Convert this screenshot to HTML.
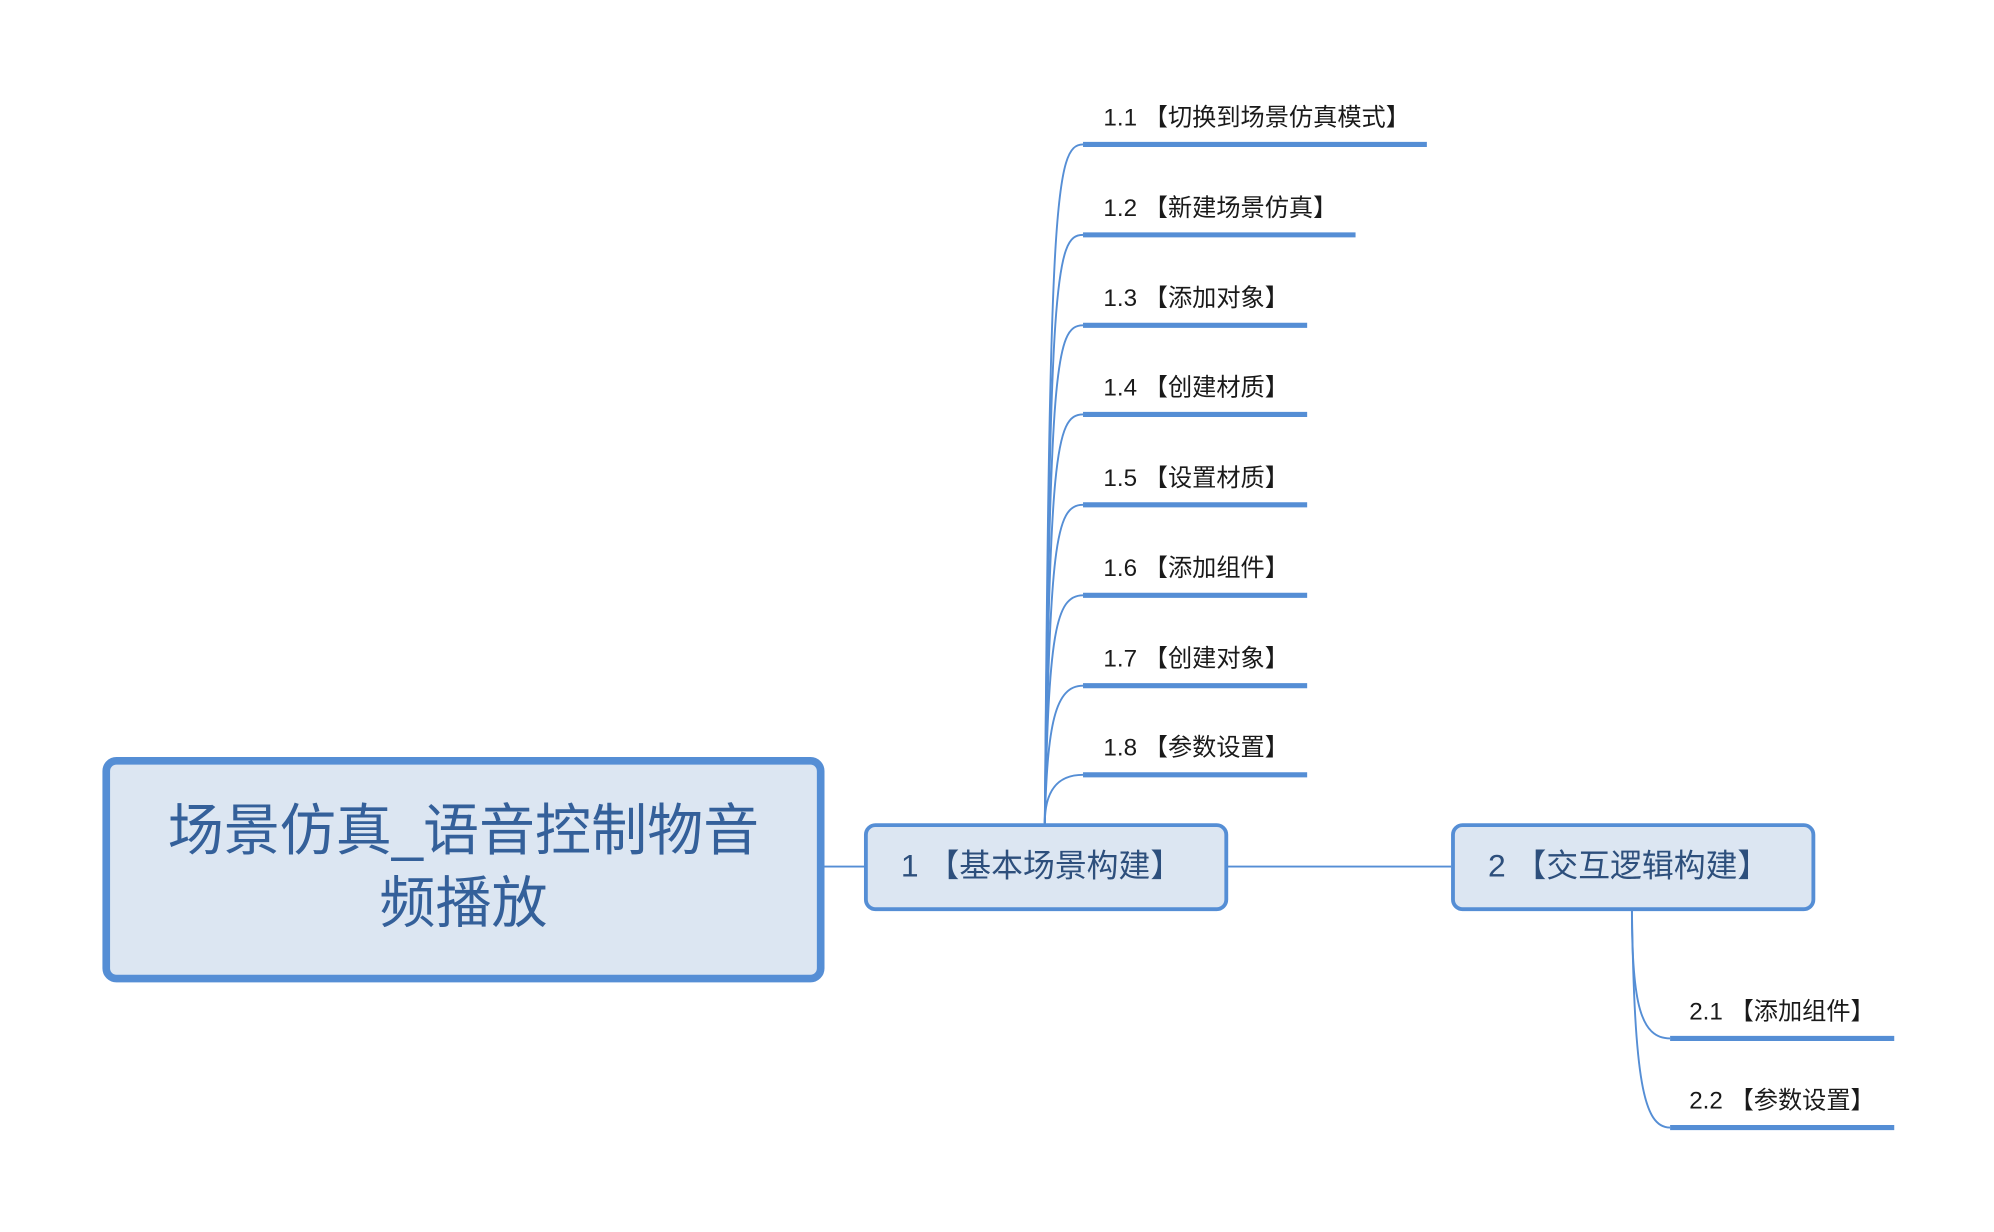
<!DOCTYPE html>
<html><head><meta charset="utf-8"><style>
html,body{margin:0;padding:0;background:#fff;width:1994px;height:1232px;overflow:hidden}
#s{position:absolute;left:-2px;top:-2px;width:1566px;height:968px;transform:scale(1.2735);transform-origin:0 0}
.t{position:absolute;white-space:nowrap;font-family:"Liberation Sans","Noto Sans CJK SC",sans-serif}
.leaf{font-size:19px;color:#1a1a1a;line-height:1}
.box{position:absolute;box-sizing:border-box;background:#dce6f2;border:3px solid #558ed5;border-radius:9px}
</style></head><body><div id="s">
<svg width="1566" height="968" style="position:absolute;left:0;top:0">
<g fill="none" stroke="#558ed5" stroke-width="1.5">
<line x1="648" y1="682" x2="682" y2="682"/>
<line x1="965" y1="682" x2="1141" y2="682"/>
<path d="M822 648 C826 160,830 115,852 115"/>
<path d="M822 648 C826 220,830 186,852 186"/>
<path d="M822 648 C826 290,830 257,852 257"/>
<path d="M822 648 C826 360,830 327,852 327"/>
<path d="M822 648 C826 430,830 398,852 398"/>
<path d="M822 648 C825 500,830 469,852 469"/>
<path d="M822 648 C824 570,830 540,852 540"/>
<path d="M822 648 C822 625,830 610,852 610"/>
<path d="M1283 716 C1283 790,1290 817,1313 817"/>
<path d="M1283 716 C1285 850,1292 887,1313 887"/>
</g>
<g stroke="#558ed5" stroke-width="4">
<line x1="852" y1="115" x2="1122" y2="115"/>
<line x1="852" y1="186" x2="1066" y2="186"/>
<line x1="852" y1="257" x2="1028" y2="257"/>
<line x1="852" y1="327" x2="1028" y2="327"/>
<line x1="852" y1="398" x2="1028" y2="398"/>
<line x1="852" y1="469" x2="1028" y2="469"/>
<line x1="852" y1="540" x2="1028" y2="540"/>
<line x1="852" y1="610" x2="1028" y2="610"/>
<line x1="1313" y1="817" x2="1489" y2="817"/>
<line x1="1313" y1="887" x2="1489" y2="887"/>
</g>
</svg>
<div class="box" style="left:82px;top:596px;width:567px;height:177px;border-width:6px;border-radius:11px"></div>
<div class="t" style="left:82px;width:567px;text-align:center;top:626px;font-size:44px;line-height:57px;color:#34609a">场景仿真_语音控制物音<br>频播放</div>
<div class="box" style="left:680px;top:648px;width:286px;height:69px"></div>
<div class="t" style="left:709px;top:667px;font-size:25px;line-height:30px;color:#2d4f7c">1 【基本场景构建】</div>
<div class="box" style="left:1141px;top:648px;width:286px;height:69px"></div>
<div class="t" style="left:1170px;top:667px;font-size:25px;line-height:30px;color:#2d4f7c">2 【交互逻辑构建】</div>
<div class="t leaf" style="left:868px;top:85px">1.1 【切换到场景仿真模式】</div>
<div class="t leaf" style="left:868px;top:156px">1.2 【新建场景仿真】</div>
<div class="t leaf" style="left:868px;top:227px">1.3 【添加对象】</div>
<div class="t leaf" style="left:868px;top:297px">1.4 【创建材质】</div>
<div class="t leaf" style="left:868px;top:368px">1.5 【设置材质】</div>
<div class="t leaf" style="left:868px;top:439px">1.6 【添加组件】</div>
<div class="t leaf" style="left:868px;top:510px">1.7 【创建对象】</div>
<div class="t leaf" style="left:868px;top:580px">1.8 【参数设置】</div>
<div class="t leaf" style="left:1328px;top:787px">2.1 【添加组件】</div>
<div class="t leaf" style="left:1328px;top:857px">2.2 【参数设置】</div>
</div></body></html>
